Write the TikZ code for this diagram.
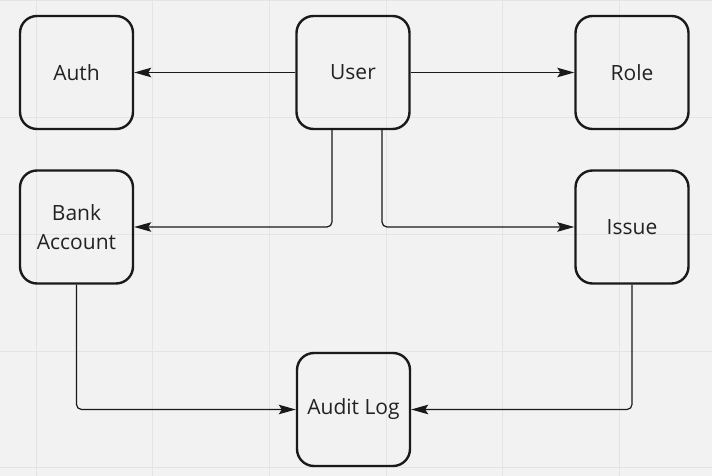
\documentclass[tikz,border=0pt]{standalone}
\usepackage{fontspec}
\setmainfont{Open Sans}
\usetikzlibrary{arrows.meta}
\definecolor{bg}{HTML}{F2F2F2}
\definecolor{gridc}{HTML}{E4E4E4}
\definecolor{ink}{HTML}{1A1A1A}
\definecolor{txt}{HTML}{222222}
\tikzset{
  entity/.style={draw=ink, line width=2.4pt, rounded corners=17pt, minimum width=113pt, minimum height=113pt, align=center, font=\fontsize{21}{29}\selectfont, text=txt, inner sep=0pt},
  conn/.style={draw=ink, line width=1.2pt, rounded corners=5pt, -{Stealth[length=17pt,width=9.5pt,inset=3pt]}}
}
\begin{document}
\begin{tikzpicture}[x=1pt,y=-1pt]
\useasboundingbox (0,0) rectangle (712,476);
\fill[bg] (0,0) rectangle (712,476);
\foreach \gx in {36,152.7,269.3,386,502.7,619.3} {\draw[gridc, line width=1pt] (\gx,0) -- (\gx,476);}
\foreach \gy in {1,117.7,234.3,351,467.7} {\draw[gridc, line width=1pt] (0,\gy) -- (712,\gy);}
\node[entity] (auth) at (76.5,72.5) {Auth};
\node[entity] (user) at (353,72.5) {User};
\node[entity] (role) at (632,72.5) {Role};
\node[entity] (bank) at (76.5,227) {Bank\\Account};
\node[entity] (issue) at (632,227) {Issue};
\node[entity] (audit) at (353.5,409.5) {Audit Log};
\draw[conn] (user) -- (auth);
\draw[conn] (user) -- (role);
\draw[conn] ([xshift=-21pt]user.south) |- (bank.east);
\draw[conn] ([xshift=29pt]user.south) |- (issue.west);
\draw[conn] (bank.south) |- (audit.west);
\draw[conn] (issue.south) |- (audit.east);
\end{tikzpicture}
\end{document}
